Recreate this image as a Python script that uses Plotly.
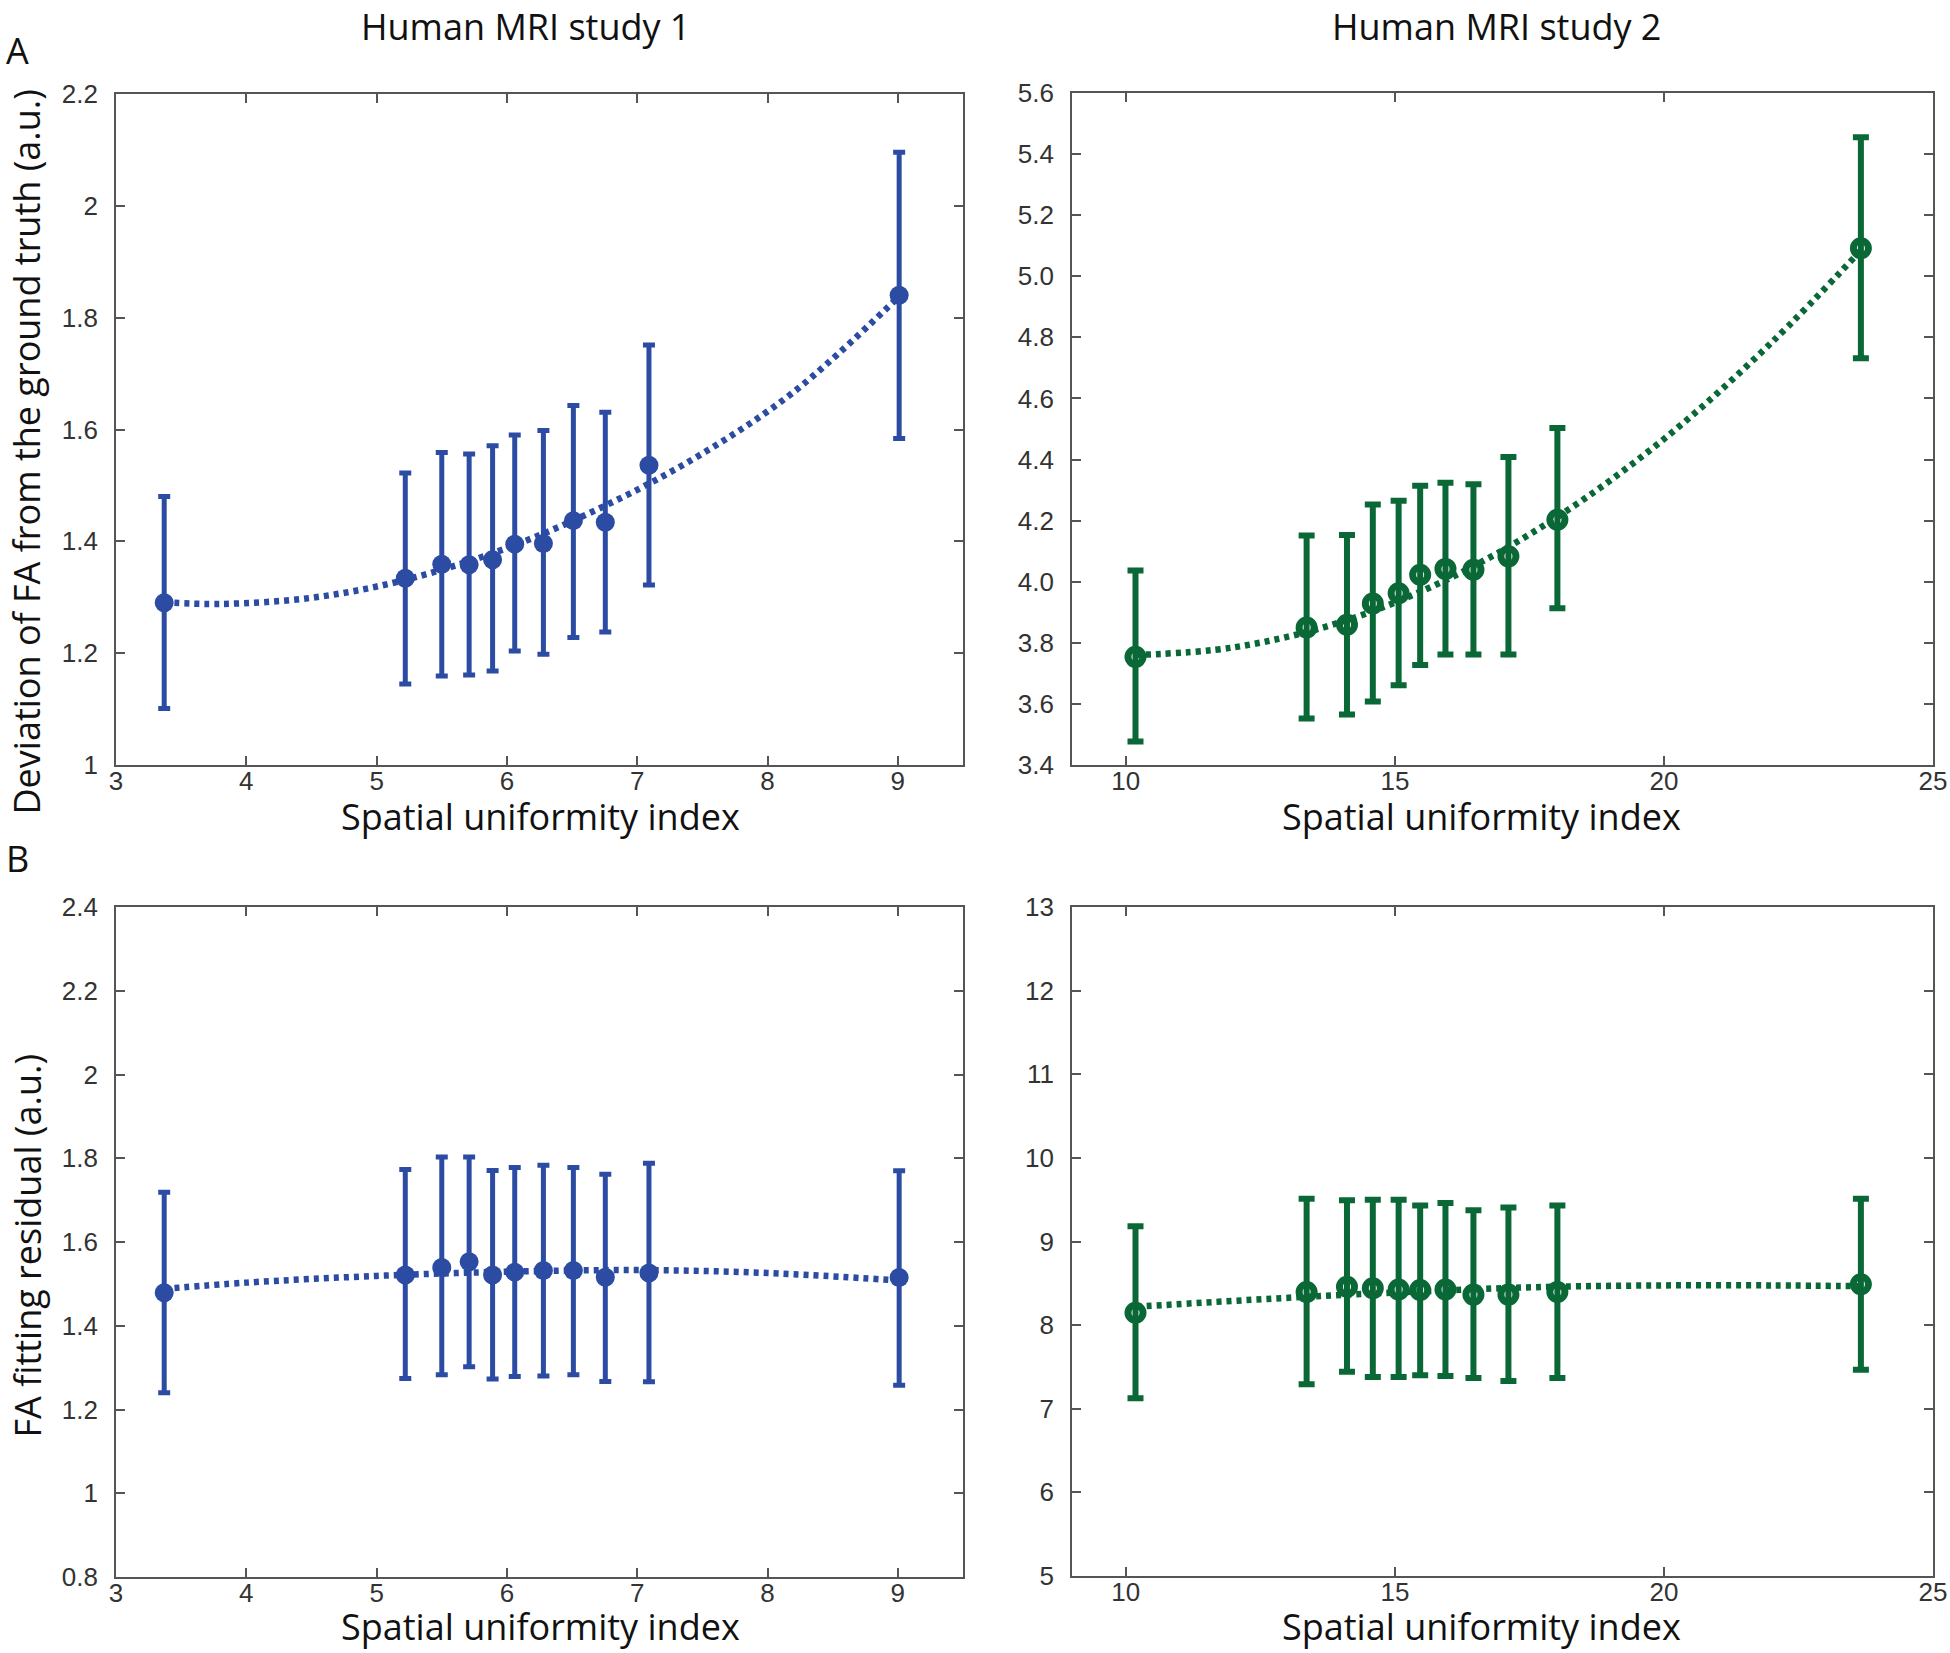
import plotly.graph_objects as go

# ---------------- data ----------------
# Study 1 (blue)
s1_x = [3.37, 5.22, 5.50, 5.71, 5.89, 6.06, 6.28, 6.51, 6.755, 7.09, 9.01]
s1_dev = [1.290, 1.334, 1.359, 1.358, 1.367, 1.395, 1.396, 1.437, 1.434, 1.536, 1.840]
s1_dev_hi = [1.480, 1.522, 1.559, 1.556, 1.571, 1.590, 1.598, 1.643, 1.631, 1.751, 2.096]
s1_dev_lo = [1.101, 1.145, 1.159, 1.161, 1.168, 1.204, 1.198, 1.228, 1.238, 1.322, 1.584]
s1_res = [1.479, 1.521, 1.539, 1.553, 1.521, 1.528, 1.532, 1.532, 1.516, 1.526, 1.515]
s1_res_hi = [1.719, 1.773, 1.803, 1.803, 1.771, 1.778, 1.783, 1.778, 1.762, 1.788, 1.770]
s1_res_lo = [1.240, 1.274, 1.283, 1.302, 1.273, 1.279, 1.280, 1.283, 1.267, 1.266, 1.258]

# fitted curves, study 1
fit1_dev_x = [3.37, 3.8, 4.5, 5.2, 6.0, 6.8, 7.5, 8.2, 9.01]
fit1_dev_y = [1.291, 1.288, 1.299, 1.330, 1.388, 1.469, 1.557, 1.667, 1.838]
fit1_res_x = [3.37, 4.0, 5.0, 6.0, 7.0, 8.0, 9.01]
fit1_res_y = [1.488, 1.503, 1.519, 1.529, 1.533, 1.526, 1.508]

# Study 2 (green)
s2_x = [10.18, 13.36, 14.11, 14.59, 15.07, 15.47, 15.94, 16.46, 17.11, 18.02, 23.66]
s2_dev = [3.754, 3.850, 3.859, 3.929, 3.962, 4.023, 4.042, 4.039, 4.083, 4.203, 5.092]
s2_dev_hi = [4.037, 4.151, 4.153, 4.253, 4.265, 4.314, 4.324, 4.319, 4.408, 4.503, 5.455]
s2_dev_lo = [3.477, 3.552, 3.565, 3.608, 3.661, 3.727, 3.762, 3.762, 3.762, 3.913, 4.732]
s2_res = [8.149, 8.396, 8.458, 8.440, 8.427, 8.420, 8.427, 8.365, 8.365, 8.397, 8.489]
s2_res_hi = [9.183, 9.512, 9.494, 9.500, 9.500, 9.430, 9.461, 9.375, 9.406, 9.430, 9.510]
s2_res_lo = [7.126, 7.294, 7.442, 7.380, 7.380, 7.400, 7.393, 7.368, 7.331, 7.367, 7.467]

fit2_dev_x = [10.18, 12.0, 14.0, 16.0, 18.0, 20.0, 22.0, 23.66]
fit2_dev_y = [3.760, 3.785, 3.868, 4.010, 4.210, 4.467, 4.783, 5.085]
fit2_res_x = [10.2, 12.0, 13.4, 15.0, 16.5, 18.0, 20.0, 22.0, 23.7]
fit2_res_y = [8.22, 8.29, 8.34, 8.39, 8.43, 8.46, 8.475, 8.475, 8.465]

# tick labels
x1_ticks = [3, 4, 5, 6, 7, 8, 9]
x2_ticks = [10, 15, 20, 25]
yA1_ticks = [1, 1.2, 1.4, 1.6, 1.8, 2, 2.2]
yA1_text = ["1", "1.2", "1.4", "1.6", "1.8", "2", "2.2"]
yA2_ticks = [3.4, 3.6, 3.8, 4.0, 4.2, 4.4, 4.6, 4.8, 5.0, 5.2, 5.4, 5.6]
yA2_text = ["3.4", "3.6", "3.8", "4.0", "4.2", "4.4", "4.6", "4.8", "5.0", "5.2", "5.4", "5.6"]
yB1_ticks = [0.8, 1, 1.2, 1.4, 1.6, 1.8, 2, 2.2, 2.4]
yB1_text = ["0.8", "1", "1.2", "1.4", "1.6", "1.8", "2", "2.2", "2.4"]
yB2_ticks = [5, 6, 7, 8, 9, 10, 11, 12, 13]

# ---------------- styling ----------------
W, H = 1950, 1653
BLUE = "#2c4ca3"
GREEN = "#0a6837"
AXC = "#555555"
TXT = "Open Sans"
TICKF = dict(family="Liberation Sans, Arial", size=26, color="#333333")


def fx(px):
    return px / W


def fy(py):
    return 1 - py / H


fig = go.Figure()


def add_panel(n, x, y, hi, lo, fx_, fy_, color, open_marker):
    xa = "x" if n == 1 else f"x{n}"
    ya = "y" if n == 1 else f"y{n}"
    fig.add_trace(go.Scatter(
        x=fx_, y=fy_, mode="lines", line_shape="spline",
        line=dict(color=color, width=6.5, dash="5px,5px"),
        xaxis=xa, yaxis=ya, showlegend=False, hoverinfo="skip"))
    plus = [h - v for h, v in zip(hi, y)]
    minus = [v - l for v, l in zip(y, lo)]
    if open_marker:
        marker = dict(symbol="circle-open", size=15, color=color, line=dict(color=color, width=7))
        eb = dict(type="data", array=plus, arrayminus=minus, color=color, thickness=6, width=8)
    else:
        marker = dict(symbol="circle", size=19, color=color, line=dict(width=0))
        eb = dict(type="data", array=plus, arrayminus=minus, color=color, thickness=5, width=6)
    fig.add_trace(go.Scatter(
        x=x, y=y, mode="markers", marker=marker, error_y=eb,
        xaxis=xa, yaxis=ya, showlegend=False))


add_panel(1, s1_x, s1_dev, s1_dev_hi, s1_dev_lo, fit1_dev_x, fit1_dev_y, BLUE, False)
add_panel(2, s2_x, s2_dev, s2_dev_hi, s2_dev_lo, fit2_dev_x, fit2_dev_y, GREEN, True)
add_panel(3, s1_x, s1_res, s1_res_hi, s1_res_lo, fit1_res_x, fit1_res_y, BLUE, False)
add_panel(4, s2_x, s2_res, s2_res_hi, s2_res_lo, fit2_res_x, fit2_res_y, GREEN, True)

axis_common = dict(showline=True, linecolor=AXC, linewidth=1.6, mirror="ticks",
                   ticks="inside", ticklen=9, tickwidth=1.5, tickcolor=AXC,
                   showgrid=False, zeroline=False, tickfont=TICKF, automargin=False)

# panel pixel boxes in the page: (left, right, top, bottom)
boxes = {
    1: (116, 963, 94, 765),
    2: (1072, 1933, 93, 765),
    3: (116, 963, 907, 1577),
    4: (1072, 1933, 907, 1576),
}
xranges = {1: [3, 9.5], 2: [9, 25], 3: [3, 9.5], 4: [9, 25]}
yranges = {1: [1, 2.2], 2: [3.4, 5.6], 3: [0.8, 2.4], 4: [5, 13]}
xt = {1: x1_ticks, 2: x2_ticks, 3: x1_ticks, 4: x2_ticks}
ytv = {1: yA1_ticks, 2: yA2_ticks, 3: yB1_ticks, 4: yB2_ticks}
ytt = {1: yA1_text, 2: yA2_text, 3: yB1_text, 4: [str(v) for v in yB2_ticks]}

layout = {}
for n in range(1, 5):
    l, r, t, b = boxes[n]
    xk = "xaxis" if n == 1 else f"xaxis{n}"
    yk = "yaxis" if n == 1 else f"yaxis{n}"
    ya = "y" if n == 1 else f"y{n}"
    xa = "x" if n == 1 else f"x{n}"
    layout[xk] = dict(axis_common, domain=[fx(l), fx(r)], range=xranges[n], anchor=ya,
                      tickvals=xt[n], ticktext=[str(v) for v in xt[n]], ticklabelstandoff=-8)
    layout[yk] = dict(axis_common, domain=[fy(b), fy(t)], range=yranges[n], anchor=xa,
                      tickvals=ytv[n], ticktext=ytt[n], ticklabelstandoff=11)

fig.update_layout(**layout)

ann_font = dict(family=TXT, size=36, color="#111111")
annotations = [
    dict(text="Human MRI study 1", x=fx(525), y=1.0, yanchor="top", xanchor="center"),
    dict(text="Human MRI study 2", x=fx(1496), y=1.0, yanchor="top", xanchor="center"),
    dict(text="A", x=fx(17), y=fy(50), yanchor="middle", xanchor="center"),
    dict(text="B", x=fx(17), y=fy(858), yanchor="middle", xanchor="center"),
    dict(text="Spatial uniformity index", x=fx(540), y=fy(816), yanchor="middle", xanchor="center"),
    dict(text="Spatial uniformity index", x=fx(1481), y=fy(816), yanchor="middle", xanchor="center"),
    dict(text="Spatial uniformity index", x=fx(540), y=0.0, yanchor="bottom", xanchor="center"),
    dict(text="Spatial uniformity index", x=fx(1481), y=0.0, yanchor="bottom", xanchor="center"),
    dict(text="Deviation of FA from the ground truth (a.u.)", x=0.0, y=fy(452),
         textangle=-90, xanchor="left", yanchor="middle"),
    dict(text="FA fitting residual (a.u.)", x=0.0, y=fy(1246),
         textangle=-90, xanchor="left", yanchor="middle"),
]
for a in annotations:
    a.update(xref="paper", yref="paper", showarrow=False, font=ann_font)

fig.update_layout(
    width=W, height=H,
    margin=dict(l=0, r=0, t=0, b=0, pad=0, autoexpand=False),
    paper_bgcolor="white", plot_bgcolor="white",
    annotations=annotations,
    showlegend=False,
)

fig.write_html(
    "out.html",
    config={"displayModeBar": False},
    post_script="document.body.style.margin='0px';document.body.style.overflow='hidden';",
)
